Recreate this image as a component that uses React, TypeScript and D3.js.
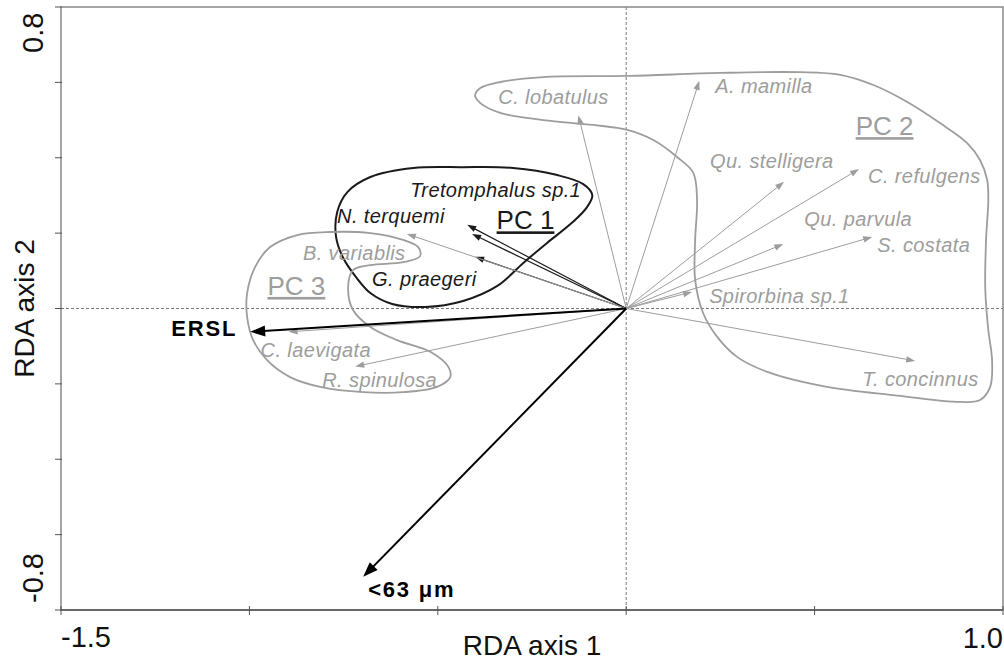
import React from "react";
import * as d3 from "d3";

// ---- chart data -------------------------------------------------------
const xDomain: [number, number] = [-1.5, 1.0];
const yDomain: [number, number] = [-0.8, 0.8];
const xTicks = [-1.5, -1.0, -0.5, 0, 0.5, 1.0];
const yTicks = [-0.8, -0.6, -0.4, -0.2, 0, 0.2, 0.4, 0.6, 0.8];
const xTickLabels = ["-1.5", "1.0"];
const yTickLabels = ["-0.8", "0.8"];

// species scores (RDA axis 1, RDA axis 2)
const speciesNames = [
  "Tretomphalus sp.1", "N. terquemi", "G. praegeri",
  "B. variablis", "C. laevigata", "R. spinulosa",
  "C. lobatulus", "A. mamilla", "Qu. stelligera", "C. refulgens",
  "Qu. parvula", "S. costata", "Spirorbina sp.1", "T. concinnus",
];
const speciesX = [-0.422, -0.409, -0.401, -0.582, -0.896, -0.719, -0.127, 0.194, 0.419, 0.618, 0.417, 0.653, 0.175, 0.767];
const speciesY = [0.222, 0.198, 0.137, 0.198, -0.062, -0.154, 0.513, 0.604, 0.336, 0.370, 0.171, 0.190, 0.044, -0.139];
const speciesDark = [true, true, true, false, false, false, false, false, false, false, false, false, false, false];

// environmental variables
const envNames = ["ERSL", "<63 μm"];
const envX = [-0.998, -0.698];
const envY = [-0.062, -0.712];

// group envelopes (axis units)
const pc1Outline: [number, number][] = [
  [-0.433, 0.375], [-0.300, 0.373], [-0.183, 0.354], [-0.114, 0.330], [-0.090, 0.301],
  [-0.104, 0.269], [-0.141, 0.230], [-0.210, 0.174], [-0.273, 0.121], [-0.342, 0.060],
  [-0.433, 0.020], [-0.533, 0.004], [-0.621, 0.012], [-0.679, 0.041], [-0.719, 0.086],
  [-0.751, 0.134], [-0.770, 0.190], [-0.767, 0.256], [-0.740, 0.309], [-0.679, 0.349],
  [-0.565, 0.373],
];
const pc2Outline: [number, number][] = [
  [-0.401, 0.566], [-0.387, 0.585], [-0.334, 0.601], [-0.220, 0.614], [0.003, 0.617],
  [0.249, 0.625], [0.462, 0.627], [0.568, 0.620], [0.656, 0.593], [0.746, 0.548],
  [0.833, 0.492], [0.905, 0.439], [0.939, 0.394], [0.958, 0.341], [0.961, 0.288],
  [0.955, 0.182], [0.953, 0.049], [0.961, -0.057], [0.971, -0.137], [0.966, -0.208],
  [0.939, -0.243], [0.886, -0.248], [0.709, -0.230], [0.533, -0.208], [0.382, -0.171],
  [0.295, -0.129], [0.242, -0.076], [0.204, -0.012], [0.183, 0.076], [0.183, 0.182],
  [0.188, 0.288], [0.178, 0.360], [0.135, 0.402], [0.072, 0.447], [0.003, 0.474],
  [-0.088, 0.487], [-0.220, 0.500], [-0.334, 0.519], [-0.387, 0.545],
];
const pc3Outline: [number, number][] = [
  [-0.472, -0.155], [-0.520, -0.115], [-0.608, -0.084], [-0.679, -0.049], [-0.725, -0.004],
  [-0.738, 0.057], [-0.725, 0.102], [-0.679, 0.115], [-0.592, 0.123], [-0.547, 0.139],
  [-0.552, 0.163], [-0.592, 0.182], [-0.679, 0.200], [-0.786, 0.203], [-0.873, 0.195],
  [-0.945, 0.163], [-0.985, 0.110], [-1.006, 0.041], [-1.006, -0.023], [-0.990, -0.084],
  [-0.953, -0.137], [-0.892, -0.182], [-0.812, -0.208], [-0.698, -0.222], [-0.592, -0.222],
  [-0.502, -0.208], [-0.467, -0.182],
];
const groupNames = ["PC 1", "PC 2", "PC 3"];

// ---- layout -------------------------------------------------------------
const W = 1004;
const H = 661;
const plot = { left: 61, right: 1003, top: 7, bottom: 610 };

// label offsets (px) from arrow tips
const speciesLabelOffset: [number, number][] = [
  [-57, -28], [-135, -11], [-103, 29], [-104, 26], [-28, 25], [-33, 20],
  [-80, -11], [16, 12], [-74, -14], [9, 14], [21, -18], [5, 15], [17, 11], [-53, 25],
];
const envLabelOffset: [number, number][] = [[-13, 4], [5, 20]];
const envLabelAnchor = ["end", "start"];
// group label anchor points (axis units)
const groupLabelX = [-0.344, 0.609, -0.952];
const groupLabelY = [0.210, 0.460, 0.036];

const GRAY = "#9d9d9d";
const DARK = "#1a1a1a";
const FONT = "'Liberation Sans', Arial, Helvetica, sans-serif";

function arrowParts(x1: number, y1: number, x2: number, y2: number, len: number, half: number) {
  const dx = x2 - x1, dy = y2 - y1;
  const d = Math.hypot(dx, dy);
  const ux = dx / d, uy = dy / d;
  const bx = x2 - ux * len, by = y2 - uy * len;
  const px = -uy, py = ux;
  const head = `${x2},${y2} ${bx + px * half},${by + py * half} ${bx - px * half},${by - py * half}`;
  return { bx: x2 - ux * len * 0.6, by: y2 - uy * len * 0.6, head };
}

export default function App() {
  const x = d3.scaleLinear().domain(xDomain).range([plot.left, plot.right]);
  const y = d3.scaleLinear().domain(yDomain).range([plot.bottom, plot.top]);
  const x0 = x(0), y0 = y(0);

  const outline = d3
    .line<[number, number]>()
    .x((d) => x(d[0]))
    .y((d) => y(d[1]))
    .curve(d3.curveCatmullRomClosed.alpha(0.5));

  const groups = [
    { pts: pc1Outline, color: DARK, width: 2 },
    { pts: pc2Outline, color: GRAY, width: 1.8 },
    { pts: pc3Outline, color: GRAY, width: 1.8 },
  ];

  return (
    <svg
      width={W}
      height={H}
      viewBox={`0 0 ${W} ${H}`}
      style={{ position: "absolute", left: 0, top: 0, background: "#fff" }}
      fontFamily={FONT}
    >
      {/* zero reference lines */}
      <line x1={plot.left} x2={plot.right} y1={y0} y2={y0} stroke="#777" strokeWidth={1} strokeDasharray="3,2" />
      <line x1={x0} x2={x0} y1={plot.top} y2={plot.bottom} stroke="#777" strokeWidth={1} strokeDasharray="3,2" />

      {/* group envelopes */}
      {groups.map((g, i) => (
        <path key={i} d={outline(g.pts) || ""} fill="none" stroke={g.color} strokeWidth={g.width} />
      ))}

      {/* species arrows */}
      {speciesNames.map((name, i) => {
        const tx = x(speciesX[i]), ty = y(speciesY[i]);
        const col = speciesDark[i] ? DARK : GRAY;
        const a = arrowParts(x0, y0, tx, ty, 9, 3.2);
        return (
          <g key={name}>
            <line x1={x0} y1={y0} x2={a.bx} y2={a.by} stroke={col} strokeWidth={speciesDark[i] ? 1.2 : 1} />
            <polygon points={a.head} fill={col} />
            <text
              x={tx + speciesLabelOffset[i][0]}
              y={ty + speciesLabelOffset[i][1]}
              fontSize={20}
              fontStyle="italic"
              letterSpacing={0.4}
              fill={col}
            >
              {name}
            </text>
          </g>
        );
      })}

      {/* environmental arrows */}
      {envNames.map((name, i) => {
        const tx = x(envX[i]), ty = y(envY[i]);
        const a = arrowParts(x0, y0, tx, ty, 15, 5.5);
        return (
          <g key={name}>
            <line x1={x0} y1={y0} x2={a.bx} y2={a.by} stroke="#000" strokeWidth={2} />
            <polygon points={a.head} fill="#000" />
            <text
              x={tx + envLabelOffset[i][0]}
              y={ty + envLabelOffset[i][1]}
              fontSize={22}
              fontWeight="bold"
              letterSpacing={1.8}
              textAnchor={envLabelAnchor[i] as any}
              fill="#000"
            >
              {name}
            </text>
          </g>
        );
      })}

      {/* group labels */}
      {groupNames.map((name, i) => (
        <text
          key={name}
          x={x(groupLabelX[i])}
          y={y(groupLabelY[i])}
          fontSize={26}
          textDecoration="underline"
          fill={i === 0 ? DARK : GRAY}
        >
          {name}
        </text>
      ))}

      {/* frame */}
      <rect
        x={plot.left}
        y={plot.top}
        width={plot.right - plot.left}
        height={plot.bottom - plot.top}
        fill="none"
        stroke="#888"
        strokeWidth={1.5}
      />
      <line x1={plot.left} x2={plot.right} y1={plot.bottom} y2={plot.bottom} stroke="#555" strokeWidth={1.5} />

      {/* ticks */}
      {yTicks.map((t) => (
        <line key={`y${t}`} x1={plot.left - 6} x2={plot.left + 1} y1={y(t)} y2={y(t)} stroke="#555" strokeWidth={1} />
      ))}
      {xTicks.map((t) => (
        <line key={`x${t}`} x1={x(t)} x2={x(t)} y1={plot.bottom - 4} y2={plot.bottom + 5} stroke="#555" strokeWidth={1} />
      ))}

      {/* tick labels */}
      <text x={x(+xTickLabels[0])} y={647} fontSize={29} fill="#111">
        {xTickLabels[0]}
      </text>
      <text x={x(+xTickLabels[1])} y={648} fontSize={29} textAnchor="end" fill="#111">
        {xTickLabels[1]}
      </text>
      <text transform={`translate(43,${y(+yTickLabels[0]) - 7}) rotate(-90)`} fontSize={29} fill="#111">
        {yTickLabels[0]}
      </text>
      <text transform={`translate(43,${y(+yTickLabels[1]) + 46}) rotate(-90)`} fontSize={29} fill="#111">
        {yTickLabels[1]}
      </text>

      {/* axis titles */}
      <text x={(plot.left + plot.right) / 2} y={655} fontSize={28} textAnchor="middle" fill="#111">
        RDA axis 1
      </text>
      <text
        transform={`translate(34,${(plot.top + plot.bottom) / 2}) rotate(-90)`}
        fontSize={28}
        textAnchor="middle"
        fill="#111"
      >
        RDA axis 2
      </text>
    </svg>
  );
}
